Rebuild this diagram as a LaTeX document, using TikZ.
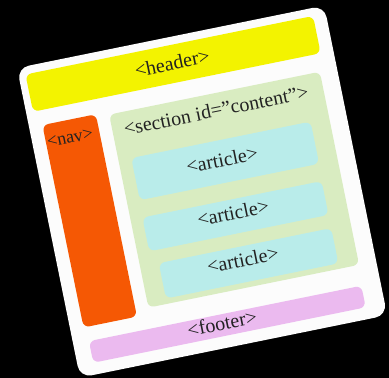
\documentclass[tikz,border=0pt]{standalone}
\usepackage{fontspec}
\setmainfont{Liberation Serif}
\definecolor{cardwhite}{HTML}{FCFCFC}
\definecolor{hdryellow}{HTML}{F3F300}
\definecolor{navorange}{HTML}{F55804}
\definecolor{secgreen}{HTML}{D9ECC1}
\definecolor{artcyan}{HTML}{B9ECEA}
\definecolor{footpink}{HTML}{EBBAEF}
\definecolor{txt}{HTML}{222222}
\tikzset{
  box/.style={draw=none, rounded corners=#1, inner sep=0pt, rotate=11.5},
  box/.default=6pt,
  lbl/.style={inner sep=0pt, text=txt, rotate=11.5, font=\fontsize{20}{24}\selectfont},
  smalllbl/.style={lbl, font=\fontsize{18}{22}\selectfont}
}
\begin{document}
\begin{tikzpicture}[x=1pt,y=-1pt]
\fill[black] (0,0) rectangle (389,378);
\useasboundingbox (0,0) rectangle (389,378);
\begin{scope}[shift={(200,190)}, rotate=11.5]
  \node[box=12pt, fill=cardwhite, minimum width=313.5pt, minimum height=316pt] (card) at (1.75,2) {};
  \node[box, fill=hdryellow, minimum width=293.5pt, minimum height=38pt] (header) at (-1.25,-129) {};
  \node[box, fill=navorange, minimum width=54.5pt, minimum height=206.5pt] (nav) at (-114.25,8.25) {};
  \node[box, fill=secgreen, minimum width=215pt, minimum height=197pt] (section) at (33.5,6.5) {};
  \node[box, fill=artcyan, minimum width=183pt, minimum height=43pt] (art1) at (30.5,-23.5) {};
  \node[box, fill=artcyan, minimum width=183pt, minimum height=34.5pt] (art2) at (29.5,32.75) {};
  \node[box, fill=artcyan, minimum width=176pt, minimum height=36pt] (art3) at (33,81.5) {};
  \node[box, fill=footpink, minimum width=278pt, minimum height=22pt] (footer) at (0,137) {};
  \node[lbl] (headertxt) at (-2,-130) {<header>};
  \node[smalllbl] (navtxt) at (-117,-77) {<nav>};
  \node[lbl] (sectxt) at (31.6,-75) {<section id=”content”>};
  \node[lbl] (art1txt) at (27.6,-25) {<article>};
  \node[lbl] (art2txt) at (27.7,29) {<article>};
  \node[lbl] (art3txt) at (28,77) {<article>};
  \node[lbl] (foottxt) at (-5,135) {<footer>};
\end{scope}
\end{tikzpicture}
\end{document}
